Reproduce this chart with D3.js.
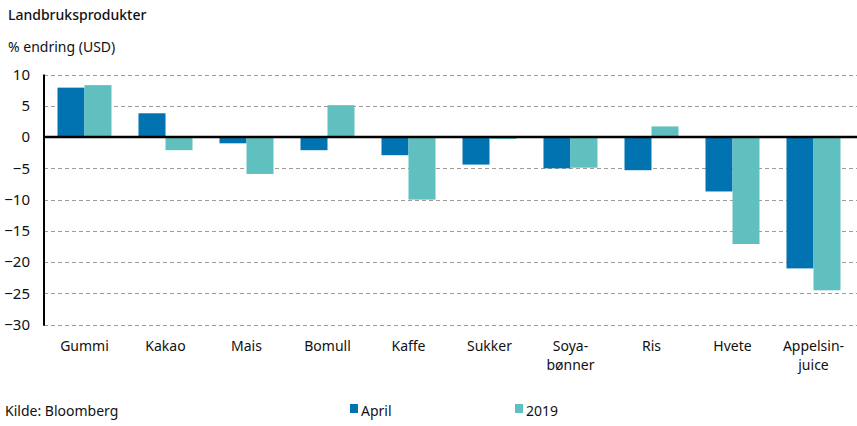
<!DOCTYPE html>
<html><head><meta charset="utf-8">
<script src="https://cdn.jsdelivr.net/npm/d3@7"></script>
<style>
body{margin:0;background:#fff;}
text{font-family:"Noto Sans","DejaVu Sans",sans-serif;fill:#111;}
</style></head>
<body>
<svg id="c" width="857" height="426"></svg>
<script>
const categories = [["Gummi"],["Kakao"],["Mais"],["Bomull"],["Kaffe"],["Sukker"],["Soya-","bønner"],["Ris"],["Hvete"],["Appelsin-","juice"]];
const seriesNames = ["April","2019"];
const april = [7.9, 3.8, -1.0, -2.1, -2.9, -4.4, -5.0, -5.3, -8.7, -21.0];
const y2019 = [8.3, -2.1, -5.9, 5.1, -10.0, -0.3, -4.9, 1.7, -17.1, -24.5];
const yTicks = [10, 5, 0, -5, -10, -15, -20, -25, -30];
const colors = ["#0073b0", "#60c0bf"];

(function(){
const svg = d3.select("#c");
const pLeft = 44, pRight = 854, pTop = 74.5, pBottom = 324.7;
const keys = categories.map((c,i)=>i);
const x = d3.scaleBand().domain(keys).range([pLeft, pRight]).paddingInner(1/3).paddingOuter(1/6);
const xs = d3.scaleBand().domain([0,1]).range([0, x.bandwidth()]);
const y = d3.scaleLinear().domain([-30, 10]).range([pBottom, pTop]);

svg.append("text").attr("x", 8).attr("y", 20).style("font-size","14px").style("font-weight","500").text("Landbruksprodukter");
svg.append("text").attr("x", 8).attr("y", 52).style("font-size","14px").text("% endring (USD)");

const grid = svg.append("g");
yTicks.filter(t=>t!==0).forEach(t=>{
  grid.append("line").attr("x1", pLeft).attr("x2", 857).attr("y1", Math.round(y(t))+0.5).attr("y2", Math.round(y(t))+0.5)
    .attr("stroke","#a39a94").attr("stroke-width",1).attr("stroke-dasharray","4,3");
});

const yAxis = d3.axisLeft(y).tickValues(yTicks).tickSize(0).tickPadding(14);
const ga = svg.append("g").attr("transform",`translate(${pLeft},0)`).call(yAxis);
ga.select(".domain").remove();
ga.selectAll("text").style("font-size","15px").style("font-family",'"Noto Sans","DejaVu Sans",sans-serif').attr("fill","#111");

const series = [april, y2019];
series.forEach((vals, s)=>{
  svg.append("g").selectAll("rect").data(vals).join("rect")
    .attr("x",(d,i)=>x(i)+xs(s))
    .attr("width", xs.bandwidth())
    .attr("y", d=>y(Math.max(0,d)))
    .attr("height", d=>Math.abs(y(d)-y(0)))
    .attr("fill", colors[s]);
});

svg.append("line").attr("x1", pLeft).attr("x2", 857).attr("y1", y(0)).attr("y2", y(0)).attr("stroke","#000").attr("stroke-width",2.5);
svg.append("line").attr("x1", pLeft).attr("x2", pLeft).attr("y1", pTop).attr("y2", pBottom+1).attr("stroke","#000").attr("stroke-width",2);

const cl = svg.append("g");
categories.forEach((lines,i)=>{
  const t = cl.append("text").attr("x", x(i)+x.bandwidth()/2).attr("y", 351).attr("text-anchor","middle").style("font-size","14px");
  lines.forEach((ln,j)=>t.append("tspan").attr("x", x(i)+x.bandwidth()/2).attr("dy", j===0?0:19).text(ln));
});

svg.append("text").attr("x", 5).attr("y", 416).style("font-size","14px").text("Kilde: Bloomberg");
const legX = [350, 515];
seriesNames.forEach((n,i)=>{
  svg.append("rect").attr("x", legX[i]).attr("y", 404).attr("width", 8).attr("height", 9).attr("fill", colors[i]);
  svg.append("text").attr("x", legX[i]+11).attr("y", 416).style("font-size","14px").text(n);
});
})();
</script>
</body></html>
